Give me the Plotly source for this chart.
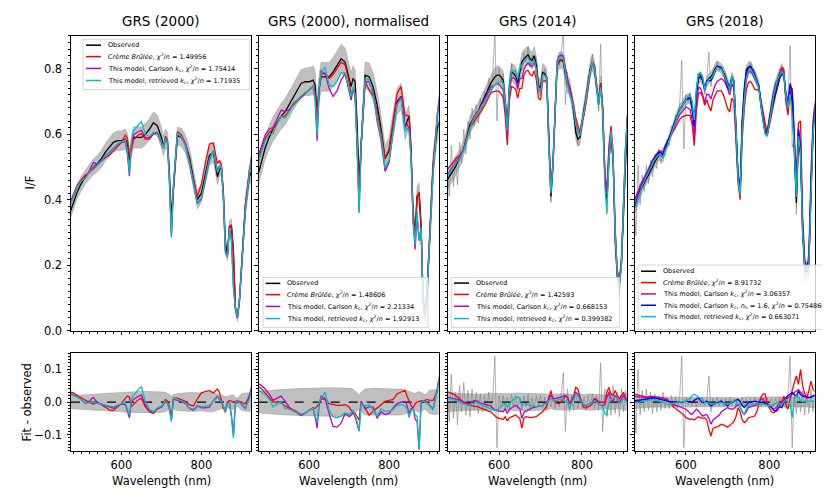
"""GRS spectra: observed I/F vs. model fits, with fit - observed residuals below."""

import numpy as np
import plotly.graph_objects as go

# ---------------------------------------------------------------- GRS (2000)
WL_2000 = [470, 480, 490, 500, 510, 520, 530, 540, 550, 560,
           570, 580, 590, 600, 610, 615, 620, 625, 630, 640,
           650, 660, 670, 680, 690, 700, 705, 710, 715, 720,
           725, 730, 740, 750, 760, 770, 780, 790, 800, 810,
           820, 830, 840, 845, 850, 855, 860, 865, 870, 875,
           880, 885, 890, 895, 900, 910, 920, 930]

OBS_2000 = [0.355, 0.390, 0.425, 0.450, 0.470, 0.485, 0.500, 0.510, 0.525, 0.545,
            0.560, 0.575, 0.580, 0.580, 0.585, 0.570, 0.520, 0.565, 0.590, 0.590,
            0.590, 0.600, 0.615, 0.635, 0.625, 0.590, 0.565, 0.585, 0.580, 0.480,
            0.345, 0.430, 0.595, 0.590, 0.570, 0.530, 0.470, 0.400, 0.420, 0.480,
            0.535, 0.545, 0.470, 0.490, 0.500, 0.420, 0.270, 0.230, 0.315, 0.320,
            0.240, 0.070, 0.040, 0.090, 0.190, 0.385, 0.470, 0.500]

ERR_2000 = [0.020, 0.020, 0.021, 0.022, 0.022, 0.023, 0.024, 0.025, 0.026, 0.027,
            0.028, 0.029, 0.030, 0.030, 0.031, 0.031, 0.031, 0.031, 0.032, 0.032,
            0.033, 0.033, 0.033, 0.033, 0.032, 0.032, 0.031, 0.030, 0.028, 0.024,
            0.018, 0.022, 0.026, 0.028, 0.028, 0.029, 0.029, 0.028, 0.027, 0.028,
            0.030, 0.030, 0.024, 0.022, 0.020, 0.018, 0.016, 0.016, 0.020, 0.022,
            0.022, 0.015, 0.012, 0.018, 0.025, 0.028, 0.028, 0.028]

RES_2000_CB = [0.032, 0.028, 0.020, 0.012, 0.005, -0.002, -0.006, -0.002, -0.008, -0.016,
               -0.024, -0.026, -0.015, -0.005, 0.012, 0.018, 0.015, -0.014, -0.008, 0.005,
               0.012, -0.015, -0.030, -0.035, -0.020, -0.015, -0.005, 0.008, 0.003, -0.015,
               -0.045, 0.012, 0.012, 0.008, 0.002, -0.008, -0.012, 0.010, 0.028, 0.032,
               0.035, 0.028, 0.040, 0.030, 0.005, -0.020, -0.025, 0.000, 0.005, 0.002,
               0.000, 0.002, 0.004, 0.002, -0.002, -0.005, 0.018, 0.030]

RES_2000_CARLSON = [0.028, 0.023, 0.016, 0.008, -0.004, 0.003, 0.014, -0.002, -0.006, -0.010,
                    -0.016, -0.019, -0.012, -0.006, -0.008, -0.030, -0.048, 0.000, 0.008, 0.016,
                    0.022, -0.010, -0.027, -0.030, -0.020, -0.015, -0.008, 0.000, -0.004, -0.020,
                    -0.055, 0.008, 0.005, 0.000, -0.004, -0.020, -0.025, -0.012, -0.018, -0.018,
                    -0.016, 0.004, 0.018, 0.010, 0.000, -0.015, -0.032, -0.005, 0.000, -0.040,
                    -0.100, -0.005, 0.000, 0.000, -0.008, -0.020, 0.020, 0.070]

RES_2000_RETRIEVED = [0.022, 0.020, 0.015, 0.008, -0.004, -0.002, 0.000, -0.004, -0.007, -0.010,
                      -0.013, -0.015, -0.010, -0.004, -0.002, -0.020, -0.040, 0.010, 0.020, 0.035,
                      0.048, 0.000, -0.022, -0.030, -0.018, -0.012, -0.006, 0.002, -0.003, -0.022,
                      -0.060, 0.012, 0.008, 0.002, -0.002, -0.018, -0.022, -0.010, -0.015, -0.012,
                      -0.010, 0.004, 0.014, 0.008, 0.000, -0.012, -0.028, -0.005, -0.002, -0.045,
                      -0.110, 0.000, 0.002, 0.000, -0.005, -0.018, 0.010, 0.060]

# ------------------------------------------------------ GRS (2000), normalised
OBS_2000N = [0.465, 0.510, 0.557, 0.590, 0.616, 0.635, 0.655, 0.668, 0.690, 0.715,
             0.735, 0.755, 0.760, 0.760, 0.765, 0.750, 0.660, 0.740, 0.775, 0.775,
             0.775, 0.790, 0.810, 0.830, 0.820, 0.775, 0.745, 0.770, 0.760, 0.630,
             0.450, 0.565, 0.780, 0.775, 0.745, 0.690, 0.615, 0.525, 0.550, 0.630,
             0.700, 0.715, 0.620, 0.640, 0.655, 0.550, 0.355, 0.300, 0.410, 0.420,
             0.315, 0.090, 0.050, 0.120, 0.250, 0.505, 0.615, 0.655]

ERR_2000N = [0.033, 0.034, 0.035, 0.036, 0.037, 0.038, 0.039, 0.040, 0.040, 0.041,
             0.041, 0.042, 0.042, 0.043, 0.043, 0.043, 0.043, 0.043, 0.044, 0.044,
             0.044, 0.044, 0.044, 0.044, 0.043, 0.043, 0.042, 0.040, 0.035, 0.028,
             0.022, 0.030, 0.040, 0.042, 0.042, 0.042, 0.041, 0.040, 0.040, 0.040,
             0.040, 0.040, 0.037, 0.035, 0.033, 0.030, 0.027, 0.026, 0.030, 0.032,
             0.030, 0.025, 0.022, 0.028, 0.035, 0.038, 0.038, 0.038]

RES_2000N_CB = [0.050, 0.042, 0.028, 0.015, 0.000, 0.000, -0.003, -0.012, -0.018, -0.022,
                -0.030, -0.038, -0.034, -0.025, -0.017, -0.020, -0.012, -0.005, 0.008, 0.010,
                -0.005, -0.008, -0.010, -0.010, -0.008, -0.015, -0.025, -0.030, -0.035, -0.045,
                -0.055, 0.002, -0.020, -0.040, -0.028, -0.018, -0.010, 0.002, 0.005, 0.008,
                0.025, 0.030, 0.036, 0.018, 0.000, -0.012, -0.018, -0.005, 0.000, 0.003,
                0.004, 0.003, 0.005, 0.008, 0.006, 0.005, 0.030, 0.100]

RES_2000N_CARLSON = [0.058, 0.052, 0.040, 0.025, 0.005, 0.012, 0.018, 0.002, -0.015, -0.027,
                     -0.035, -0.041, -0.035, -0.025, -0.020, -0.045, -0.080, -0.010, 0.018, 0.010,
                     -0.035, -0.075, -0.077, -0.065, -0.035, -0.045, -0.040, -0.032, -0.045, -0.065,
                     -0.089, 0.000, -0.020, -0.015, -0.015, -0.050, -0.030, -0.038, -0.035, -0.018,
                     -0.005, 0.000, 0.002, -0.010, -0.038, -0.020, -0.018, -0.052, -0.060, -0.145,
                     0.000, 0.003, 0.000, -0.002, -0.008, -0.022, 0.040, 0.110]

RES_2000N_RETRIEVED = [0.038, 0.032, 0.022, 0.010, -0.015, -0.005, 0.000, -0.020, -0.022, -0.027,
                       -0.033, -0.038, -0.034, -0.025, -0.018, -0.040, -0.063, 0.000, 0.012, 0.030,
                       -0.025, -0.045, -0.048, -0.043, -0.033, -0.038, -0.030, -0.025, -0.040, -0.060,
                       -0.089, -0.005, -0.012, -0.008, -0.025, -0.042, -0.022, -0.028, -0.028, -0.023,
                       -0.010, -0.007, -0.012, -0.020, -0.048, -0.025, -0.020, -0.038, -0.045, -0.145,
                       0.000, 0.003, 0.000, -0.002, -0.010, -0.025, 0.035, 0.100]

# ---------------------------------------------------------------- GRS (2014)
WL_2014 = [475, 480, 485, 490, 495, 500, 505, 510, 515, 520,
           525, 530, 535, 540, 545, 550, 555, 560, 565, 570,
           575, 580, 585, 590, 595, 600, 605, 610, 615, 620,
           625, 630, 635, 640, 645, 650, 655, 660, 665, 670,
           675, 680, 685, 690, 695, 700, 705, 710, 715, 720,
           725, 730, 735, 740, 745, 750, 755, 760, 765, 770,
           775, 780, 785, 790, 795, 800, 805, 810, 815, 820,
           825, 830, 835, 840, 845, 850, 855, 860, 865, 870,
           875, 880, 885, 890, 895, 900, 905, 910]

OBS_2014 = [0.460, 0.470, 0.480, 0.490, 0.500, 0.515, 0.525, 0.540, 0.555, 0.580,
            0.605, 0.630, 0.640, 0.650, 0.660, 0.670, 0.685, 0.700, 0.710, 0.725,
            0.740, 0.755, 0.765, 0.775, 0.780, 0.780, 0.775, 0.765, 0.700, 0.625,
            0.750, 0.790, 0.785, 0.777, 0.755, 0.790, 0.820, 0.830, 0.837, 0.842,
            0.830, 0.825, 0.840, 0.810, 0.750, 0.740, 0.790, 0.785, 0.775, 0.560,
            0.410, 0.500, 0.680, 0.810, 0.825, 0.827, 0.820, 0.780, 0.750, 0.745,
            0.710, 0.670, 0.605, 0.585, 0.590, 0.640, 0.675, 0.715, 0.760, 0.800,
            0.820, 0.800, 0.745, 0.696, 0.755, 0.680, 0.480, 0.400, 0.520, 0.600,
            0.520, 0.280, 0.165, 0.145, 0.200, 0.360, 0.550, 0.660]

ERR_2014 = [0.030, 0.030, 0.029, 0.028, 0.028, 0.027, 0.026, 0.026, 0.025, 0.025,
            0.025, 0.026, 0.025, 0.024, 0.025, 0.026, 0.025, 0.024, 0.025, 0.026,
            0.026, 0.027, 0.026, 0.027, 0.028, 0.027, 0.026, 0.027, 0.026, 0.025,
            0.026, 0.027, 0.027, 0.028, 0.028, 0.027, 0.027, 0.028, 0.028, 0.027,
            0.027, 0.026, 0.026, 0.027, 0.026, 0.025, 0.026, 0.025, 0.024, 0.022,
            0.020, 0.022, 0.024, 0.025, 0.025, 0.026, 0.025, 0.025, 0.024, 0.024,
            0.023, 0.023, 0.022, 0.022, 0.022, 0.023, 0.024, 0.024, 0.025, 0.025,
            0.025, 0.024, 0.024, 0.023, 0.023, 0.022, 0.020, 0.020, 0.022, 0.024,
            0.024, 0.022, 0.020, 0.020, 0.022, 0.024, 0.025, 0.025]

# full-resolution spectrum minus the binned one (grey trace)
NOISE_2014 = [0.040, -0.060, 0.085, -0.050, 0.030, -0.070, 0.050, -0.030, 0.060, -0.040,
              0.035, -0.045, 0.040, -0.025, 0.030, -0.035, 0.025, -0.030, 0.020, -0.025,
              0.030, -0.020, 0.015, 0.140, -0.140, 0.020, -0.015, 0.020, -0.025, 0.015,
              -0.020, 0.025, -0.015, 0.020, -0.020, 0.015, -0.025, 0.020, -0.015, 0.025,
              -0.020, 0.015, -0.020, 0.020, -0.015, 0.020, -0.020, 0.015, -0.025, 0.020,
              -0.015, 0.020, -0.020, 0.015, -0.015, 0.020, 0.090, -0.090, 0.040, -0.030,
              0.020, -0.025, 0.030, -0.020, 0.025, -0.020, 0.015, -0.025, 0.020, -0.015,
              0.025, -0.020, 0.020, -0.025, 0.120, -0.090, 0.040, -0.045, 0.035, -0.040,
              0.050, -0.035, 0.030, -0.045, 0.040, -0.030, 0.035, -0.020]

RES_2014_CB = [0.032, 0.030, 0.027, 0.024, 0.021, 0.016, 0.010, 0.004, -0.002, -0.006,
               -0.009, -0.010, -0.011, -0.012, -0.012, -0.015, -0.018, -0.021, -0.024, -0.026,
               -0.028, -0.030, -0.036, -0.045, -0.048, -0.050, -0.052, -0.053, -0.045, -0.058,
               -0.048, -0.045, -0.042, -0.040, -0.045, -0.050, -0.080, -0.050, -0.045, -0.047,
               -0.048, -0.047, -0.046, -0.045, -0.040, -0.036, -0.030, -0.022, -0.012, 0.010,
               0.035, 0.008, 0.000, -0.004, -0.005, 0.000, 0.010, 0.018, 0.015, -0.005,
               0.005, 0.020, 0.045, 0.040, 0.015, 0.000, -0.017, -0.018, -0.014, -0.012,
               -0.005, 0.010, 0.008, 0.000, -0.002, 0.000, -0.002, 0.030, 0.045, 0.025,
               0.020, 0.035, 0.020, 0.010, 0.018, 0.030, 0.010, 0.000]

RES_2014_CARLSON = [0.015, 0.014, 0.013, 0.012, 0.011, 0.008, 0.005, 0.002, 0.000, -0.003,
                    -0.005, -0.004, 0.000, 0.004, 0.005, 0.000, -0.003, -0.005, -0.007, -0.008,
                    -0.010, -0.012, -0.018, -0.024, -0.026, -0.028, -0.030, -0.030, -0.020, -0.035,
                    -0.022, -0.018, -0.014, -0.010, -0.015, -0.020, -0.050, -0.032, -0.028, -0.024,
                    -0.020, -0.018, -0.016, -0.015, -0.013, -0.012, -0.010, -0.006, -0.002, 0.010,
                    0.020, 0.012, 0.010, 0.012, 0.014, 0.015, 0.018, 0.020, 0.015, -0.005,
                    0.005, 0.015, 0.030, 0.025, 0.010, 0.000, -0.010, -0.012, -0.008, -0.005,
                    0.000, 0.010, 0.005, -0.005, -0.010, -0.010, -0.008, 0.015, 0.030, 0.010,
                    0.000, 0.020, 0.010, 0.000, 0.008, 0.020, 0.008, 0.000]

RES_2014_RETRIEVED = [0.010, 0.010, 0.009, 0.008, 0.006, 0.004, 0.000, -0.004, -0.006, -0.008,
                      -0.010, -0.010, -0.006, -0.002, 0.000, -0.004, -0.007, -0.010, -0.013, -0.016,
                      -0.019, -0.021, -0.023, -0.025, -0.025, -0.020, -0.015, -0.010, -0.004, -0.015,
                      -0.005, 0.002, 0.008, 0.014, 0.015, 0.012, -0.010, -0.008, -0.006, -0.008,
                      -0.010, -0.012, -0.014, -0.015, -0.013, -0.012, -0.010, -0.006, -0.002, 0.005,
                      0.010, 0.006, 0.004, 0.005, 0.007, 0.010, 0.008, 0.005, 0.000, -0.020,
                      -0.005, 0.010, 0.025, 0.020, 0.005, 0.000, -0.008, -0.010, -0.008, -0.005,
                      0.000, 0.002, 0.000, -0.005, -0.012, -0.015, -0.035, -0.040, 0.000, 0.008,
                      0.010, 0.015, 0.012, -0.005, 0.000, 0.010, 0.005, 0.000]

# ---------------------------------------------------------------- GRS (2018)
WL_2018 = [475, 480, 485, 490, 495, 500, 505, 510, 515, 520,
           525, 530, 535, 540, 545, 550, 555, 560, 565, 570,
           575, 580, 585, 590, 595, 600, 605, 610, 615, 620,
           625, 630, 635, 640, 645, 650, 655, 660, 665, 670,
           675, 680, 685, 690, 695, 700, 705, 710, 715, 720,
           725, 730, 735, 740, 745, 750, 755, 760, 765, 770,
           775, 780, 785, 790, 795, 800, 805, 810, 815, 820,
           825, 830, 835, 840, 845, 850, 855, 860, 865, 870,
           875, 880, 885, 890, 895, 900, 905, 910]

OBS_2018 = [0.370, 0.385, 0.405, 0.425, 0.440, 0.455, 0.465, 0.475, 0.490, 0.505,
            0.515, 0.525, 0.535, 0.535, 0.530, 0.555, 0.570, 0.585, 0.605, 0.625,
            0.645, 0.660, 0.675, 0.685, 0.695, 0.705, 0.708, 0.710, 0.680, 0.620,
            0.720, 0.770, 0.775, 0.765, 0.736, 0.760, 0.770, 0.775, 0.785, 0.800,
            0.808, 0.805, 0.800, 0.790, 0.775, 0.755, 0.740, 0.775, 0.760, 0.620,
            0.470, 0.430, 0.640, 0.740, 0.795, 0.805, 0.807, 0.795, 0.780, 0.765,
            0.745, 0.690, 0.645, 0.610, 0.605, 0.645, 0.690, 0.725, 0.750, 0.770,
            0.785, 0.800, 0.780, 0.710, 0.680, 0.730, 0.700, 0.550, 0.390, 0.580,
            0.540, 0.300, 0.190, 0.180, 0.200, 0.420, 0.600, 0.670]

ERR_2018 = [0.020, 0.020, 0.019, 0.019, 0.018, 0.018, 0.017, 0.017, 0.016, 0.016,
            0.016, 0.015, 0.015, 0.015, 0.016, 0.015, 0.015, 0.014, 0.015, 0.015,
            0.015, 0.016, 0.015, 0.015, 0.014, 0.015, 0.015, 0.016, 0.015, 0.014,
            0.015, 0.015, 0.016, 0.015, 0.015, 0.014, 0.015, 0.015, 0.016, 0.015,
            0.015, 0.014, 0.015, 0.015, 0.016, 0.015, 0.015, 0.014, 0.015, 0.014,
            0.012, 0.013, 0.014, 0.015, 0.015, 0.016, 0.015, 0.015, 0.015, 0.016,
            0.015, 0.015, 0.014, 0.014, 0.015, 0.015, 0.016, 0.016, 0.015, 0.015,
            0.015, 0.016, 0.016, 0.015, 0.015, 0.015, 0.014, 0.014, 0.015, 0.016,
            0.016, 0.015, 0.014, 0.014, 0.015, 0.016, 0.017, 0.018]

NOISE_2018 = [0.030, -0.095, 0.100, -0.040, 0.035, -0.030, 0.040, -0.025, 0.030, -0.035,
              0.025, -0.030, 0.020, -0.025, 0.030, -0.020, 0.015, -0.020, 0.020, -0.015,
              0.015, -0.020, 0.015, 0.140, -0.140, 0.015, -0.010, 0.015, -0.012, 0.010,
              -0.015, 0.012, -0.010, 0.015, -0.012, 0.010, 0.080, -0.030, 0.012, -0.010,
              0.015, -0.012, 0.010, -0.015, 0.012, -0.010, 0.015, -0.012, 0.010, -0.015,
              0.012, -0.010, 0.015, -0.012, 0.010, -0.015, 0.012, -0.010, 0.015, -0.012,
              0.010, -0.015, 0.012, -0.010, 0.015, -0.012, 0.010, -0.015, 0.012, -0.010,
              0.015, -0.012, 0.015, -0.020, 0.025, 0.140, -0.140, 0.030, -0.035, 0.040,
              -0.030, 0.035, -0.040, 0.030, -0.035, 0.040, -0.030, 0.030]

RES_2018_CB = [0.025, 0.023, 0.021, 0.019, 0.017, 0.015, 0.015, 0.015, 0.015, 0.015,
               0.015, 0.014, 0.013, 0.013, 0.012, 0.010, 0.008, 0.002, -0.007, -0.015,
               -0.020, -0.025, -0.030, -0.033, -0.040, -0.048, -0.050, -0.053, -0.052, -0.055,
               -0.050, -0.045, -0.048, -0.050, -0.048, -0.055, -0.085, -0.104, -0.080, -0.079,
               -0.076, -0.073, -0.068, -0.070, -0.074, -0.077, -0.072, -0.065, -0.060, -0.045,
               -0.017, -0.030, -0.055, -0.063, -0.058, -0.048, -0.046, -0.044, -0.043, -0.030,
               -0.008, 0.015, 0.025, 0.025, -0.005, -0.020, -0.030, -0.033, -0.030, -0.025,
               -0.012, 0.005, 0.018, -0.010, -0.022, 0.010, 0.039, 0.060, 0.080, 0.054,
               0.100, 0.050, 0.025, 0.010, 0.035, 0.064, 0.040, 0.030]

RES_2018_CARLSON = [0.018, 0.018, 0.016, 0.015, 0.014, 0.013, 0.014, 0.016, 0.018, 0.017,
                    0.016, 0.015, 0.014, 0.013, 0.012, 0.008, 0.004, 0.000, -0.004, -0.008,
                    -0.010, -0.012, -0.015, -0.017, -0.020, -0.022, -0.028, -0.035, -0.038, -0.030,
                    -0.022, -0.027, -0.035, -0.043, -0.040, -0.038, -0.050, -0.068, -0.055, -0.050,
                    -0.047, -0.040, -0.030, -0.025, -0.020, -0.017, -0.020, -0.022, -0.020, -0.012,
                    -0.007, -0.015, -0.030, -0.038, -0.030, -0.017, -0.015, -0.013, -0.012, -0.008,
                    0.000, 0.008, 0.010, 0.000, -0.010, -0.012, -0.018, -0.022, -0.018, -0.010,
                    -0.005, 0.000, 0.006, 0.008, 0.012, 0.018, 0.023, 0.030, 0.033, 0.038,
                    0.030, 0.023, 0.018, 0.015, 0.013, 0.014, 0.018, 0.018]

RES_2018_NH = [0.003, 0.004, 0.005, 0.006, 0.007, 0.008, 0.009, 0.010, 0.012, 0.013,
               0.013, 0.011, 0.009, 0.008, 0.006, 0.004, 0.003, 0.002, 0.001, 0.001,
               0.000, -0.001, -0.001, -0.002, 0.001, 0.003, 0.002, 0.001, 0.000, 0.005,
               0.010, 0.013, 0.005, -0.002, 0.000, 0.003, -0.006, -0.012, -0.008, -0.005,
               -0.001, 0.001, 0.003, -0.003, -0.008, -0.012, -0.005, 0.000, 0.003, 0.006,
               0.008, 0.002, -0.010, -0.017, -0.008, -0.002, 0.000, 0.002, 0.003, 0.001,
               0.000, -0.002, -0.003, -0.005, -0.007, -0.010, -0.015, -0.025, -0.028, -0.018,
               -0.015, -0.017, 0.000, 0.013, 0.020, 0.025, 0.029, 0.022, 0.018, 0.034,
               0.022, 0.018, 0.016, 0.015, 0.014, 0.015, 0.020, 0.023]

RES_2018_RETRIEVED = [-0.002, -0.002, -0.001, 0.000, 0.002, 0.003, 0.005, 0.006, 0.007, 0.008,
                      0.008, 0.006, 0.003, 0.000, -0.002, -0.005, -0.007, -0.006, -0.005, -0.005,
                      -0.004, -0.003, -0.002, -0.001, 0.002, 0.003, 0.008, 0.012, 0.020, 0.023,
                      0.020, 0.015, 0.013, 0.008, 0.000, -0.002, -0.003, -0.005, -0.006, -0.005,
                      -0.004, -0.003, -0.002, -0.004, -0.006, -0.007, -0.004, 0.000, 0.003, 0.002,
                      -0.007, -0.015, -0.030, -0.038, -0.020, -0.012, -0.008, -0.006, -0.005, -0.005,
                      -0.005, -0.005, -0.006, -0.008, -0.010, -0.012, -0.010, -0.008, -0.004, -0.002,
                      -0.005, -0.007, 0.000, 0.008, 0.000, -0.007, -0.048, 0.010, 0.018, 0.015,
                      0.005, 0.000, 0.002, 0.004, 0.003, 0.002, 0.003, 0.003]

# ------------------------------------------------------------------- labels
TITLES = ["GRS (2000)", "GRS (2000), normalised", "GRS (2014)", "GRS (2018)"]
CHI_CB = ["1.49956", "1.48606", "1.42593", "8.91732"]
CHI_CARLSON = ["1.75414", "2.21334", "0.668153", "3.06357"]
CHI_NH = "0.754860"
CHI_RETRIEVED = ["1.71935", "1.92913", "0.399382", "0.663071"]

CHI = "<i>χ</i><sup>2</sup>/<i>n</i> = "
KC = "<i>k</i><sub>c</sub>"
LBL_CB = "<i>Crème Brûlée</i>, " + CHI
LBL_CARLSON = "This model, Carlson " + KC + ", " + CHI
LBL_NH = "This model, Carlson " + KC + ", <i>n</i><sub>n</sub> = 1.6, " + CHI
LBL_RETRIEVED = "This model, retrieved " + KC + ", " + CHI

FONT = "DejaVu Sans"
W, H = 830, 498
RED, MAGENTA, BLUE, CYAN = "#ff0000", "#bf00bf", "#0000ff", "#00bfbf"
BAND = "rgba(128,128,128,0.5)"
NOISE = "rgba(128,128,128,0.75)"

# panel frames in pixels
PANEL_X = [(63, 243), (250.7, 430.7), (440, 619), (626.7, 806.5)]
TOP_Y = (28.3, 327.3)
BOT_Y = (350, 449.3)
XRANGES = [[474, 924], [474, 924], [477, 908.5], [477, 908.5]]

# legend boxes: (x0, y0, x1, y1), row centres, handle x0, handle x1, text x
LEGENDS = [
    ((75, 31.7, 241.7, 82.7), [37.7, 49.3, 61.3, 73.5], 78, 93, 98),
    ((255, 273.3, 420, 324), [279.3, 290.7, 302.7, 315], 257.7, 272.3, 277.3),
    ((443.3, 273.3, 611.7, 324), [279, 290.5, 302.5, 315], 446, 461, 465.7),
    ((630, 260.7, 826, 326), [267, 278.5, 290, 301.5, 313], 633, 648, 652.7),
]

panels = [
    dict(wl=WL_2000, obs=OBS_2000, err=ERR_2000, noise=None,
         models=[(RED, LBL_CB + CHI_CB[0], RES_2000_CB),
                 (MAGENTA, LBL_CARLSON + CHI_CARLSON[0], RES_2000_CARLSON),
                 (CYAN, LBL_RETRIEVED + CHI_RETRIEVED[0], RES_2000_RETRIEVED)]),
    dict(wl=WL_2000, obs=OBS_2000N, err=ERR_2000N, noise=None,
         models=[(RED, LBL_CB + CHI_CB[1], RES_2000N_CB),
                 (MAGENTA, LBL_CARLSON + CHI_CARLSON[1], RES_2000N_CARLSON),
                 (CYAN, LBL_RETRIEVED + CHI_RETRIEVED[1], RES_2000N_RETRIEVED)]),
    dict(wl=WL_2014, obs=OBS_2014, err=ERR_2014, noise=NOISE_2014,
         models=[(RED, LBL_CB + CHI_CB[2], RES_2014_CB),
                 (MAGENTA, LBL_CARLSON + CHI_CARLSON[2], RES_2014_CARLSON),
                 (CYAN, LBL_RETRIEVED + CHI_RETRIEVED[2], RES_2014_RETRIEVED)]),
    dict(wl=WL_2018, obs=OBS_2018, err=ERR_2018, noise=NOISE_2018,
         models=[(RED, LBL_CB + CHI_CB[3], RES_2018_CB),
                 (MAGENTA, LBL_CARLSON + CHI_CARLSON[3], RES_2018_CARLSON),
                 (BLUE, LBL_NH + CHI_NH, RES_2018_NH),
                 (CYAN, LBL_RETRIEVED + CHI_RETRIEVED[3], RES_2018_RETRIEVED)]),
]


def fx(px):
    return px / W


def fy(px):
    return 1 - px / H


def band(wl, lo, hi):
    return list(wl) + list(wl)[::-1], list(hi) + list(lo)[::-1]


fig = go.Figure()
layout = {}
shapes = []
annotations = []

axis_common = dict(showline=True, linecolor="black", linewidth=1, mirror=True,
                   showgrid=False, zeroline=False, ticks="outside", ticklen=3.5,
                   tickwidth=0.8, tickcolor="black",
                   tickfont=dict(family=FONT, size=11.5, color="black"))

for i, p in enumerate(panels):
    t, b = i + 1, i + 5
    wl = np.array(p["wl"], dtype=float)
    obs = np.array(p["obs"])
    err = np.array(p["err"])
    xr = XRANGES[i]

    # ---- top: spectra
    bx, by = band(wl, obs - err, obs + err)
    fig.add_trace(go.Scatter(x=bx, y=by, fill="toself", fillcolor=BAND, mode="lines",
                             line=dict(color="rgba(128,128,128,0.6)", width=0.6),
                             xaxis=f"x{t}", yaxis=f"y{t}", hoverinfo="skip"))
    if p["noise"] is not None:
        fig.add_trace(go.Scatter(x=wl, y=obs + np.array(p["noise"]), mode="lines",
                                 line=dict(color=NOISE, width=0.8),
                                 xaxis=f"x{t}", yaxis=f"y{t}"))
    fig.add_trace(go.Scatter(x=wl, y=obs, mode="lines", line=dict(color="black", width=1.3),
                             xaxis=f"x{t}", yaxis=f"y{t}"))
    for color, _, res in p["models"]:
        fig.add_trace(go.Scatter(x=wl, y=obs + np.array(res), mode="lines",
                                 line=dict(color=color, width=1.3),
                                 xaxis=f"x{t}", yaxis=f"y{t}"))

    # ---- bottom: residuals
    bx, by = band(wl, -err, err)
    fig.add_trace(go.Scatter(x=bx, y=by, fill="toself", fillcolor=BAND, mode="lines",
                             line=dict(color="rgba(128,128,128,0.6)", width=0.6),
                             xaxis=f"x{b}", yaxis=f"y{b}", hoverinfo="skip"))
    if p["noise"] is not None:
        fig.add_trace(go.Scatter(x=wl, y=p["noise"], mode="lines",
                                 line=dict(color=NOISE, width=0.8),
                                 xaxis=f"x{b}", yaxis=f"y{b}"))
    fig.add_trace(go.Scatter(x=xr, y=[0, 0], mode="lines",
                             line=dict(color="black", width=1.2, dash="dash"),
                             xaxis=f"x{b}", yaxis=f"y{b}"))
    for color, _, res in p["models"]:
        fig.add_trace(go.Scatter(x=wl, y=res, mode="lines",
                                 line=dict(color=color, width=1.3),
                                 xaxis=f"x{b}", yaxis=f"y{b}"))

    x0, x1 = PANEL_X[i]
    dom = [fx(x0), fx(x1)]
    xminor = dict(dtick=20, ticks="outside", ticklen=2, tickwidth=0.6, tickcolor="black")
    layout[f"xaxis{t}"] = dict(axis_common, domain=dom, range=xr, anchor=f"y{t}",
                               dtick=200, tick0=0, minor=xminor, showticklabels=False)
    layout[f"xaxis{b}"] = dict(axis_common, domain=dom, range=xr, anchor=f"y{b}",
                               dtick=200, tick0=0, minor=xminor, showticklabels=True,
                               ticklabelstandoff=0)
    layout[f"yaxis{t}"] = dict(axis_common, domain=[fy(TOP_Y[1]), fy(TOP_Y[0])],
                               range=[0, 0.9], anchor=f"x{t}", dtick=0.2, tick0=0,
                               tickformat=".1f", showticklabels=(i == 0),
                               ticklabelstandoff=2,
                               minor=dict(dtick=0.02, ticks="outside", ticklen=2,
                                          tickwidth=0.6, tickcolor="black"))
    layout[f"yaxis{b}"] = dict(axis_common, domain=[fy(BOT_Y[1]), fy(BOT_Y[0])],
                               range=[-0.15, 0.15], anchor=f"x{b}", dtick=0.1, tick0=0,
                               tickformat=".1f", showticklabels=(i == 0),
                               ticklabelstandoff=2,
                               minor=dict(dtick=0.01, ticks="outside", ticklen=2,
                                          tickwidth=0.6, tickcolor="black"))

    # titles and x label
    annotations.append(dict(text=TITLES[i], x=fx((x0 + x1) / 2), y=fy(13), xref="paper",
                            yref="paper", showarrow=False, xanchor="center", yanchor="middle",
                            font=dict(family=FONT, size=13.5, color="black")))
    annotations.append(dict(text="Wavelength (nm)", x=fx((x0 + x1) / 2), y=fy(480),
                            xref="paper", yref="paper", showarrow=False, xanchor="center",
                            yanchor="middle", font=dict(family=FONT, size=11.5, color="black")))

    # legend drawn inside each panel
    (lx0, ly0, lx1, ly1), rows, hx0, hx1, tx = LEGENDS[i]
    shapes.append(dict(type="rect", xref="paper", yref="paper", x0=fx(lx0), x1=fx(lx1),
                       y0=fy(ly1), y1=fy(ly0), fillcolor="rgba(255,255,255,0.8)",
                       line=dict(color="#cccccc", width=0.8), layer="above"))
    entries = [("black", "Observed")] + [(c, lbl) for c, lbl, _ in p["models"]]
    for (color, label), ry in zip(entries, rows):
        shapes.append(dict(type="line", xref="paper", yref="paper", x0=fx(hx0), x1=fx(hx1),
                           y0=fy(ry), y1=fy(ry), line=dict(color=color, width=1.5),
                           layer="above"))
        annotations.append(dict(text=label, x=fx(tx), y=fy(ry), xref="paper", yref="paper",
                                showarrow=False, xanchor="left", yanchor="middle",
                                font=dict(family=FONT, size=6.5, color="black")))

annotations.append(dict(text="I/F", x=fx(22), y=fy(177), xref="paper", yref="paper",
                        showarrow=False, textangle=-90, xanchor="center", yanchor="middle",
                        font=dict(family=FONT, size=11.5, color="black")))
annotations.append(dict(text="Fit - observed", x=fx(19), y=fy(400), xref="paper",
                        yref="paper", showarrow=False, textangle=-90, xanchor="center",
                        yanchor="middle", font=dict(family=FONT, size=11.5, color="black")))

fig.update_traces(showlegend=False)
fig.update_layout(
    **layout,
    width=W, height=H,
    margin=dict(l=0, r=0, t=0, b=0),
    paper_bgcolor="white", plot_bgcolor="white",
    font=dict(family=FONT, color="black"),
    shapes=shapes, annotations=annotations,
    showlegend=False,
)

fig.write_html("out.html")
